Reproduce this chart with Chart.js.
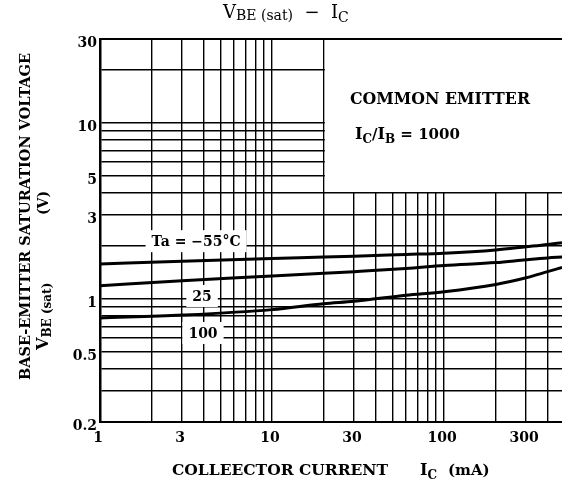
<!DOCTYPE html>
<html>
<head>
<meta charset="utf-8">
<script src="https://cdn.jsdelivr.net/npm/chart.js@4.4.1/dist/chart.umd.min.js"></script>
<style>
  html, body { margin: 0; padding: 0; background: #fff; }
  #wrap { width: 562px; height: 488px; }
</style>
</head>
<body>
<div id="wrap"><canvas id="chart" width="562" height="488"></canvas></div>
<script>
// collector current (mA) where the curves were read
const currentMA = [1, 3, 10, 20, 30, 60, 100, 200, 300, 400, 485];
// VBE(sat) in volts for each ambient temperature
const vbeMinus55 = [1.58, 1.64, 1.70, 1.73, 1.75, 1.79, 1.82, 1.90, 1.98, 2.04, 2.09];
const vbe25 = [1.19, 1.27, 1.35, 1.40, 1.43, 1.49, 1.55, 1.61, 1.67, 1.71, 1.73];
const vbe100 = [0.78, 0.81, 0.87, 0.94, 0.97, 1.05, 1.10, 1.21, 1.32, 1.43, 1.51];

// grid lines and labelled ticks
const xGrid = [1, 2, 3, 4, 5, 6, 7, 8, 9, 10, 20, 30, 40, 50, 60, 70, 80, 90, 100, 200, 300, 400];
const yGrid = [0.2, 0.3, 0.4, 0.5, 0.6, 0.7, 0.8, 0.9, 1, 2, 3, 4, 5, 6, 7, 8, 9, 10, 20, 30];
const xLabels = [1, 3, 10, 30, 100, 300];
const yLabels = [0.2, 0.5, 1, 3, 5, 10, 30];

// curve labels: text, x (mA), y (V)
const curveLabels = [
  ['Ta = \u221255\u00b0C', 3.62, 2.13],
  ['25', 3.92, 1.04],
  ['100', 3.97, 0.641]
];

const serif = '"DejaVu Serif", serif';

function drawParts(ctx, parts, x, y) {
  // parts: [text, size, weight, dy]
  let cx = x;
  parts.forEach(p => {
    ctx.font = `${p[2]} ${p[1]}px ${serif}`;
    ctx.fillText(p[0], cx, y + p[3]);
    cx += ctx.measureText(p[0]).width;
  });
}

const overlay = {
  id: 'overlay',
  beforeDatasetsDraw(chart) {
    const { ctx, chartArea: a, scales: { x, y } } = chart;
    ctx.save();
    ctx.fillStyle = '#fff';
    // empty box in the upper right for the notes
    const bx = x.getPixelForValue(20);
    const by = y.getPixelForValue(4);
    ctx.fillRect(bx + 1, a.top, a.right - bx, by - 1 - a.top);

    // white boxes behind curve labels
    ctx.font = `bold 14px ${serif}`;
    curveLabels.forEach(l => {
      const px = x.getPixelForValue(l[1]);
      const py = y.getPixelForValue(l[2]);
      const w = ctx.measureText(l[0]).width;
      ctx.fillRect(px - w / 2 - 6, py - 11, w + 12, 22);
    });

    // top frame
    ctx.strokeStyle = '#000';
    ctx.lineWidth = 2;
    ctx.beginPath();
    ctx.moveTo(a.left, a.top);
    ctx.lineTo(a.right, a.top);
    ctx.stroke();
    ctx.restore();
  },
  afterDraw(chart) {
    const { ctx, scales: { x, y } } = chart;
    ctx.save();
    ctx.fillStyle = '#000';
    ctx.textBaseline = 'alphabetic';

    // curve labels
    ctx.textAlign = 'center';
    ctx.font = `bold 14px ${serif}`;
    curveLabels.forEach(l => {
      ctx.fillText(l[0], x.getPixelForValue(l[1]), y.getPixelForValue(l[2]) + 5);
    });
    ctx.textAlign = 'left';

    // title
    drawParts(ctx, [['V', 18, 'normal', 0], ['BE (sat)', 14, 'normal', 2], ['  \u2212  ', 18, 'normal', 0],
      ['I', 18, 'normal', 0], ['C', 14, 'normal', 4]], 223, 18);

    // notes
    drawParts(ctx, [['COMMON EMITTER', 15.8, 'bold', 0]], 350, 104);
    drawParts(ctx, [['I', 16, 'bold', 0], ['C', 12, 'bold', 4], ['/', 15, 'bold', 0], ['I', 16, 'bold', 0],
      ['B', 12, 'bold', 4], [' = 1000', 15, 'bold', 0]], 355, 139);

    // x axis title
    drawParts(ctx, [['COLLEECTOR CURRENT', 15.5, 'bold', 0]], 172, 475);
    drawParts(ctx, [['I', 16, 'bold', 0], ['C', 12, 'bold', 4]], 420, 475);
    drawParts(ctx, [['(mA)', 15, 'bold', 0]], 448, 475);

    // y axis title, two rotated lines
    ctx.save();
    ctx.translate(30, 380);
    ctx.rotate(-Math.PI / 2);
    ctx.font = `bold 15px ${serif}`;
    const t1 = 'BASE-EMITTER SATURATION VOLTAGE';
    const sx = 327 / ctx.measureText(t1).width;
    ctx.scale(sx, 1);
    ctx.fillText(t1, 0, 0);
    ctx.restore();

    ctx.save();
    ctx.translate(48, 350);
    ctx.rotate(-Math.PI / 2);
    drawParts(ctx, [['V', 16, 'bold', 0], ['BE (sat)', 12, 'bold', 3]], 0, 0);
    drawParts(ctx, [['(V)', 14, 'bold', 0]], 135, 0);
    ctx.restore();

    ctx.restore();
  }
};

const lineStyle = {
  borderColor: '#000',
  borderWidth: 3,
  pointRadius: 0,
  fill: false,
  cubicInterpolationMode: 'monotone'
};

new Chart(document.getElementById('chart'), {
  type: 'line',
  data: {
    datasets: [
      { label: '-55', data: currentMA.map((c, i) => ({ x: c, y: vbeMinus55[i] })), ...lineStyle },
      { label: '25', data: currentMA.map((c, i) => ({ x: c, y: vbe25[i] })), ...lineStyle },
      { label: '100', data: currentMA.map((c, i) => ({ x: c, y: vbe100[i] })), ...lineStyle }
    ]
  },
  options: {
    responsive: false,
    animation: false,
    devicePixelRatio: 1,
    layout: { padding: { top: 39, right: 0, left: 0, bottom: 0 } },
    plugins: { legend: { display: false }, tooltip: { enabled: false } },
    scales: {
      x: {
        type: 'logarithmic',
        min: 1,
        max: 485,
        afterBuildTicks: s => { s.ticks = xGrid.map(v => ({ value: v })); },
        afterFit: s => { s.height = 66; },
        grid: { color: '#000', lineWidth: 1.4, drawTicks: false },
        border: { color: '#000', width: 2 },
        ticks: {
          autoSkip: false,
          maxRotation: 0,
          padding: 8,
          labelOffset: -2,
          color: '#000',
          font: { family: serif, weight: 'bold', size: 14 },
          callback: v => xLabels.includes(v) ? String(v) : ''
        }
      },
      y: {
        type: 'logarithmic',
        min: 0.2,
        max: 30,
        afterBuildTicks: s => { s.ticks = yGrid.map(v => ({ value: v })); },
        afterFit: s => { s.width = 100; },
        grid: { color: '#000', lineWidth: 1.4, drawTicks: false },
        border: { color: '#000', width: 2.5 },
        ticks: {
          autoSkip: false,
          padding: 3,
          labelOffset: 4,
          color: '#000',
          font: { family: serif, weight: 'bold', size: 14 },
          callback: v => yLabels.includes(v) ? String(v) : ''
        }
      }
    }
  },
  plugins: [overlay]
});
</script>
</body>
</html>
